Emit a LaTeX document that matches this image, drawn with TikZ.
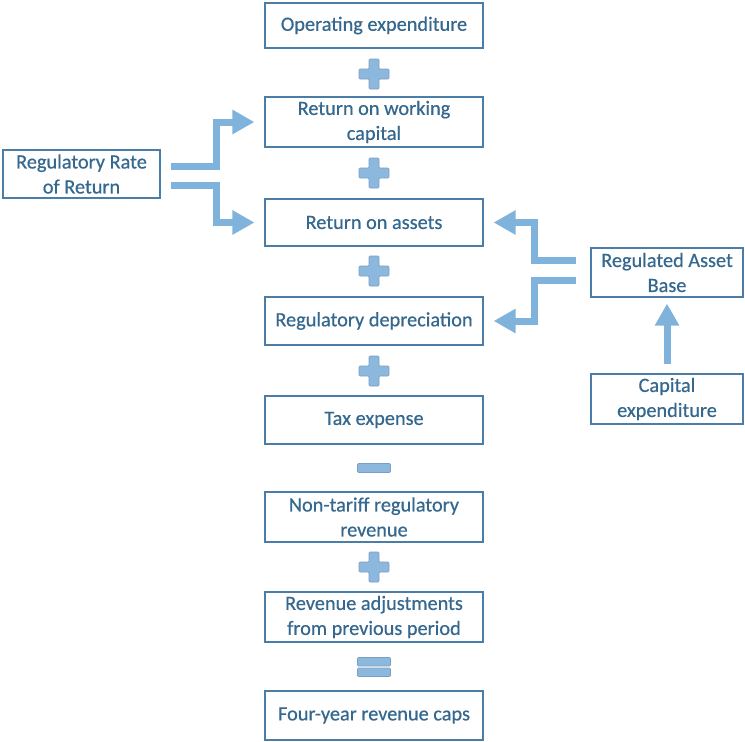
\documentclass[tikz,border=0pt]{standalone}
\usepackage{fontspec}
\setmainfont[FakeBold=0.5]{Carlito}
\usetikzlibrary{arrows.meta}
\definecolor{txtc}{HTML}{34688F}
\definecolor{brdc}{HTML}{4A7DA8}
\definecolor{arrc}{HTML}{80B3DB}
\definecolor{sgnf}{HTML}{8DB8DD}
\definecolor{sgnd}{HTML}{7A9FC2}
\tikzset{
  box/.style={draw=brdc, line width=1.1pt, fill=white, text=txtc, align=center,
    inner sep=0pt, font=\fontsize{20.3}{25}\selectfont},
  cbox/.style={box, minimum width=218pt},
  arr/.style={draw=arrc, line width=7pt, -{Triangle[width=23pt,length=22pt]}},
  sgn/.style={fill=sgnf, draw=sgnd, line width=0.6pt, rounded corners=1pt},
  plussign/.pic={\path[sgn] (-15,-5) -- (-5,-5) -- (-5,-15) -- (5,-15) -- (5,-5) -- (15,-5) -- (15,5) -- (5,5) -- (5,15) -- (-5,15) -- (-5,5) -- (-15,5) -- cycle;},
  minussign/.pic={\path[sgn] (-16.5,-4.5) rectangle (16.5,4.5);},
  equalsign/.pic={\path[sgn] (-16.5,1) rectangle (16.5,9.5); \path[sgn] (-16.5,-1) rectangle (16.5,-9.5);}
}
\begin{document}
\begin{tikzpicture}[x=1pt,y=1pt]
\useasboundingbox (0,0) rectangle (745,-742);
\node[cbox, minimum height=45pt] (opex) at (374,-25.5) {Operating expenditure};
\node[cbox, minimum height=50pt] (rowc) at (374,-122) {Return on working\\capital};
\node[cbox, minimum height=47pt] (roa) at (374,-222.5) {Return on assets};
\node[cbox, minimum height=48pt] (dep) at (374,-321) {Regulatory depreciation};
\node[cbox, minimum height=48pt] (tax) at (374,-420) {Tax expense};
\node[cbox, minimum height=50pt] (ntr) at (374,-517) {Non-tariff regulatory\\revenue};
\node[cbox, minimum height=50pt] (adj) at (374,-617) {Revenue adjustments\\from previous period};
\node[cbox, minimum height=49pt] (caps) at (374,-715.5) {Four-year revenue caps};
\node[box, minimum width=157pt, minimum height=48pt] (rrr) at (81.5,-174) {Regulatory Rate\\of Return};
\node[box, minimum width=152pt, minimum height=49pt] (rab) at (667,-272.5) {Regulated Asset\\Base};
\node[box, minimum width=152pt, minimum height=50pt] (capex) at (667,-399) {Capital\\expenditure};

\pic at (374,-74) {plussign};
\pic at (374,-173) {plussign};
\pic at (374,-271) {plussign};
\pic at (374,-371) {plussign};
\pic at (374,-468) {minussign};
\pic at (374,-567) {plussign};
\pic at (374,-667) {equalsign};

\draw[arr, shorten >=10pt] ([shift={(10,8)}]rrr.east) -- ++(46,0) |- (rowc.west);
\draw[arr, shorten >=10pt] ([shift={(10,-11)}]rrr.east) -- ++(46,0) |- (roa.west);
\draw[arr, shorten >=10pt] ([shift={(-14,12)}]rab.west) -- ++(-42,0) |- (roa.east);
\draw[arr, shorten >=10pt] ([shift={(-14,-8)}]rab.west) -- ++(-42,0) |- (dep.east);
\draw[arr, shorten <=9pt, shorten >=6pt] (capex.north) -- (rab.south);
\end{tikzpicture}
\end{document}
